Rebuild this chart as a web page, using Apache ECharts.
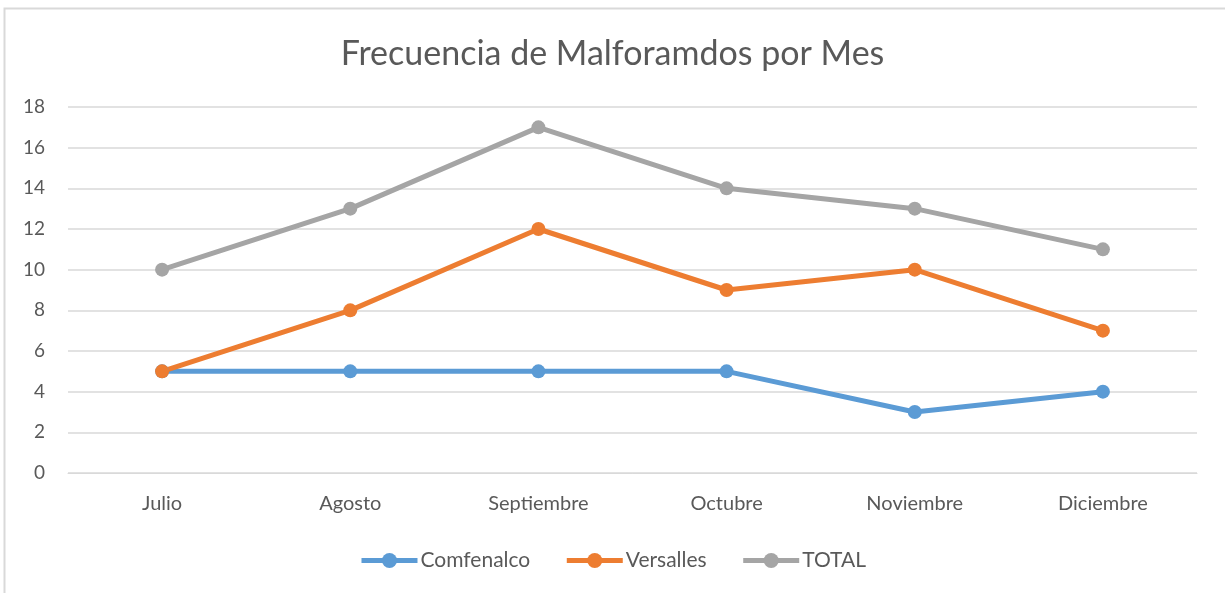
<!DOCTYPE html>
<html>
<head>
<meta charset="utf-8">
<script src="https://cdn.jsdelivr.net/npm/echarts@6/dist/echarts.min.js"></script>
<style>
  html, body { margin: 0; padding: 0; background: #fff; }
  #main { width: 1225px; height: 593px; }
</style>
</head>
<body>
<div id="main"></div>
<script>
const months = ['Julio', 'Agosto', 'Septiembre', 'Octubre', 'Noviembre', 'Diciembre'];
const comfenalco = [5, 5, 5, 5, 3, 4];
const versalles = [5, 8, 12, 9, 10, 7];
const total = [10, 13, 17, 14, 13, 11];

const chart = echarts.init(document.getElementById('main'));
const font = 'Lato, "Open Sans", sans-serif';

function lineSeries(name, color, data) {
  return {
    name: name,
    type: 'line',
    data: data,
    color: color,
    symbol: 'circle',
    symbolSize: 14,
    lineStyle: { width: 5, color: color },
    itemStyle: { color: color },
    z: 3
  };
}

chart.setOption({
  animation: false,
  textStyle: { fontFamily: font },
  graphic: [{
    type: 'rect',
    shape: { x: 4.5, y: 8.5, width: 1230, height: 600 },
    style: { fill: null, stroke: '#d9d9d9', lineWidth: 2 },
    silent: true
  }],
  title: {
    text: 'Frecuencia de Malforamdos por Mes',
    left: 'center',
    top: 32,
    textStyle: { fontFamily: font, fontSize: 34, fontWeight: 'normal', color: '#595959' }
  },
  legend: {
    bottom: 17,
    left: 'center',
    itemWidth: 56,
    itemHeight: 19,
    itemGap: 34,
    lineStyle: { width: 5 },
    textStyle: { fontFamily: font, fontSize: 21, color: '#595959', padding: [0, 0, 0, -2] },
    data: ['Comfenalco', 'Versalles', 'TOTAL']
  },
  grid: { left: 68, right: 28, top: 107, bottom: 120 },
  xAxis: {
    type: 'category',
    data: months,
    axisLine: { show: true, lineStyle: { color: '#d9d9d9' } },
    axisTick: { show: false },
    axisLabel: { fontFamily: font, fontSize: 20, color: '#595959', margin: 21 }
  },
  yAxis: {
    type: 'value',
    min: 0,
    max: 18,
    interval: 2,
    axisLine: { show: false },
    axisTick: { show: false },
    splitLine: { lineStyle: { color: '#d9d9d9', width: 1.5 } },
    axisLabel: { fontFamily: font, fontSize: 19, color: '#595959', margin: 23 }
  },
  series: [
    lineSeries('Comfenalco', '#5b9bd5', comfenalco),
    lineSeries('Versalles', '#ed7d31', versalles),
    lineSeries('TOTAL', '#a5a5a5', total)
  ]
});
</script>
</body>
</html>
